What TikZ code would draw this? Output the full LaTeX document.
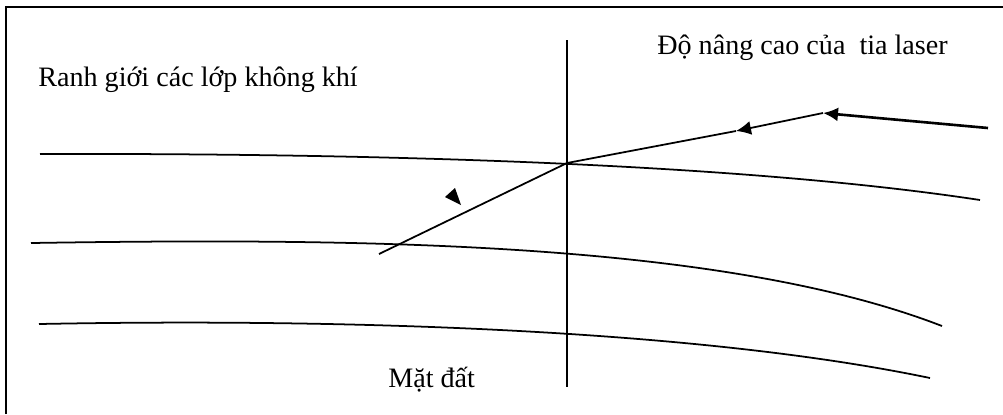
\documentclass[tikz,border=0pt]{standalone}
\usepackage{fontspec}
\setmainfont{Liberation Serif}
\usetikzlibrary{arrows.meta}

\begin{document}
\begin{tikzpicture}[
    x=0.02cm, y=-0.02cm,
    layer/.style={line width=1pt},
    ray/.style={line width=1pt},
    tip/.style={-{Latex[length=3mm,width=2.8mm]}},
    lbl/.style={font=\fontsize{16}{19}\selectfont, inner sep=0pt, anchor=west}
]
\useasboundingbox (0,0) rectangle (1003,414);
% khung
\draw[line width=1.2pt] (6,414) -- (6,7) -- (1003,7);

% ranh gioi cac lop khong khi
\draw[layer] (40,154) .. controls (400,153) and (750,165) .. (980,200);
\draw[layer] (31,243) .. controls (350,238) and (720,240) .. (942,326);
\draw[layer] (39,324) .. controls (350,318) and (700,330) .. (930,378);

% phap tuyen
\coordinate (top) at (567,40);
\coordinate (bot) at (567,387);
\draw[layer] (top) -- (bot);

% tia laser
\coordinate (src) at (988,128);
\coordinate (r1) at (823,113);
\coordinate (r2) at (736,131);
\coordinate (o) at (567,163);
\coordinate (gnd) at (379,254);
\draw[ray, line width=1.5pt, tip] (src) -- (r1);
\draw[ray, tip] (r1) -- (r2);
\draw[ray] (r2) -- (o) -- (gnd);
\fill (445,197) -- (455,188) -- (461,205) -- cycle;

% nhan
\node[lbl] (cao) at (657,48) {Độ nâng cao của\ \ tia laser};
\node[lbl] (ranh) at (38,80) {Ranh giới các lớp không khí};
\node[lbl] (dat) at (388,380) {Mặt đất};
\end{tikzpicture}
\end{document}
